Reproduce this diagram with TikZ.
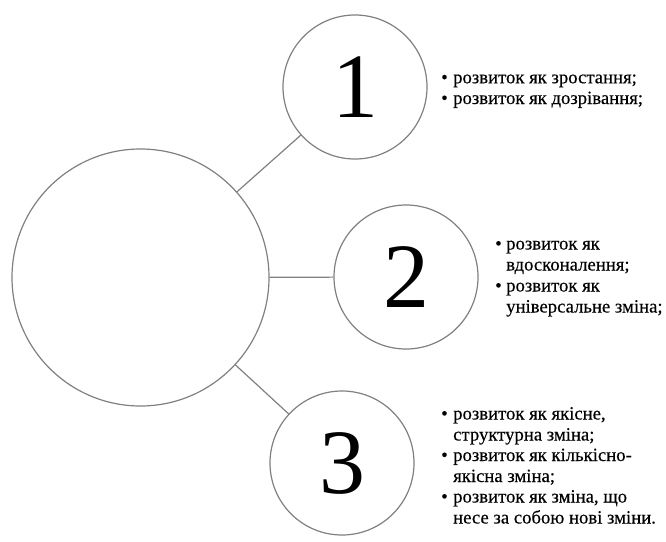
\documentclass[tikz,border=0pt]{standalone}
\usepackage{fontspec}
\setmainfont{Liberation Serif}
\newfontfamily\listfont[FakeBold=0.3]{Liberation Serif}
\definecolor{ringgray}{RGB}{128,128,128}
\tikzset{
  ring/.style={circle, draw=ringgray, line width=1.2pt, inner sep=0pt, fill=white},
  bigring/.style={ring, minimum size=257pt},
  smallring/.style={ring, minimum size=144pt, font=\fontsize{92}{92}\selectfont},
  link/.style={draw=ringgray, line width=1.2pt},
  line/.style={anchor=base west, inner sep=0pt, font=\listfont\fontsize{18.7}{20.8}\selectfont},
  dot/.style={line}
}
\begin{document}
\begin{tikzpicture}[x=1pt,y=-1pt]
\useasboundingbox (0,0) rectangle (666,541);
\node[bigring] (c0) at (140.5,277.5) {};
\node[smallring] (c1) at (355,87) {1};
\node[smallring] (c2) at (406,277) {2};
\node[smallring] (c3) at (342,463) {3};
\draw[link] (c0) -- (c1);
\draw[link] (c0) -- (c2);
\draw[link] (c0) -- (c3);
% block 1
\node[dot] (b1a) at (441,83.3) {\textbullet};
\node[line] (t1a) at (453,83.3) {розвиток як зростання;};
\node[dot] (b1b) at (441,104) {\textbullet};
\node[line] (t1b) at (453,104) {розвиток як дозрівання;};
% block 2
\node[dot] (b2a) at (495,249.5) {\textbullet};
\node[line] (t2a) at (506,249.5) {розвиток як};
\node[line] (t2b) at (506,270.5) {вдосконалення;};
\node[dot] (b2c) at (495,291.5) {\textbullet};
\node[line] (t2c) at (506,291.5) {розвиток як};
\node[line] (t2d) at (506,312.5) {універсальне зміна;};
% block 3
\node[dot] (b3a) at (441,419.5) {\textbullet};
\node[line] (t3a) at (453,419.5) {розвиток як якісне,};
\node[line] (t3b) at (453,440.5) {структурна зміна;};
\node[dot] (b3c) at (441,461) {\textbullet};
\node[line] (t3c) at (453,461) {розвиток як кількісно-};
\node[line] (t3d) at (453,482) {якісна зміна;};
\node[dot] (b3e) at (441,502.5) {\textbullet};
\node[line] (t3e) at (453,502.5) {розвиток як зміна, що};
\node[line] (t3f) at (453,523.5) {несе за собою нові зміни.};
\end{tikzpicture}
\end{document}
